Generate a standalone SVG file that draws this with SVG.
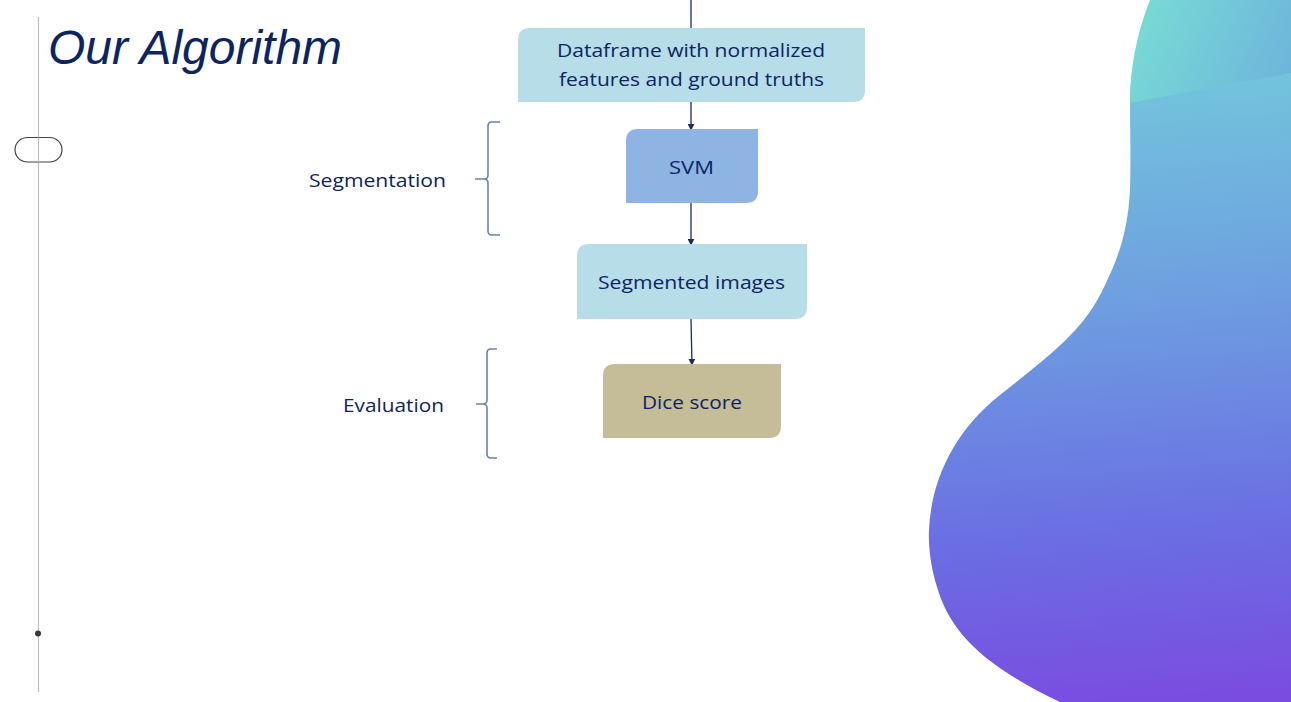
<svg xmlns="http://www.w3.org/2000/svg" width="1291" height="702" viewBox="0 0 1291 702">
<defs>
<style>
.lbl{font-family:"Open Sans","Liberation Sans",Arial,sans-serif;font-size:19px;fill:#0c2461;text-anchor:middle;}
.side{font-family:"Open Sans","Liberation Sans",Arial,sans-serif;font-size:19px;fill:#0c2461;text-anchor:end;}
.conn{stroke:#1a2e66;stroke-width:1.3;fill:none;}
.brace{stroke:#6b82ad;stroke-width:1.6;fill:none;}
</style>
<marker id="ah" viewBox="0 0 10 10" refX="9" refY="5" markerWidth="7" markerHeight="7" markerUnits="userSpaceOnUse" orient="auto">
<path d="M0 0 L10 5 L0 10 Z" fill="#1a2e66"/>
</marker>
<linearGradient id="gTeal" gradientUnits="userSpaceOnUse" x1="1130" y1="20" x2="1291" y2="90">
<stop offset="0" stop-color="#78dcd4"/>
<stop offset="1" stop-color="#6db3dc"/>
</linearGradient>
<linearGradient id="gMain" gradientUnits="userSpaceOnUse" x1="1110" y1="73" x2="1160" y2="702">
<stop offset="0" stop-color="#72c6dc"/>
<stop offset="0.35" stop-color="#6ea0e0"/>
<stop offset="0.72" stop-color="#6a6fe3"/>
<stop offset="1" stop-color="#7a4ce0"/>
</linearGradient>
</defs>
<rect width="1291" height="702" fill="#ffffff"/>

<g id="background">
<path d="M1134 60 L1291 40 L1291 702 L1060 702 C1010 678 965 650 945 608 C932 580 928 550 929 530 C931 480 955 430 1000 395 C1050 355 1085 330 1105 285 C1122 250 1128 225 1130 190 C1131 160 1130 130 1130 103 C1130 90 1131 75 1134 60 Z" fill="url(#gMain)"/>
<path d="M1150 0 L1291 0 L1291 73 L1130 103 C1130 70 1136 35 1150 0 Z" fill="url(#gTeal)"/>
<line x1="38.5" y1="17" x2="38.5" y2="692" stroke="#bdbdbd" stroke-width="1.2"/>
<rect x="15" y="137.5" width="47" height="24.5" rx="12.25" fill="#ffffff" stroke="#444444" stroke-width="1.2"/>
<line x1="38.5" y1="137.5" x2="38.5" y2="162" stroke="#bdbdbd" stroke-width="1.2"/>
<circle cx="38" cy="633.5" r="3" fill="#3a3a3a"/>
<text x="48" y="64" font-family="'Liberation Sans',Arial,sans-serif" font-style="italic" font-size="48" fill="#0c2461" textLength="294" lengthAdjust="spacingAndGlyphs">Our Algorithm</text>
</g>

<g id="connectors">
<line class="conn" x1="691" y1="0" x2="691" y2="28"/>
<line class="conn" x1="691" y1="102" x2="691" y2="130" marker-end="url(#ah)"/>
<line class="conn" x1="691" y1="203" x2="691" y2="245" marker-end="url(#ah)"/>
<line class="conn" x1="691" y1="319" x2="692" y2="365" marker-end="url(#ah)"/>
</g>

<g id="node-dataframe">
<path d="M530 28 L865 28 L865 90 Q865 102 853 102 L518 102 L518 40 Q518 28 530 28 Z" fill="#b7dde8"/>
<text class="lbl" x="691" y="56.5" textLength="268" lengthAdjust="spacingAndGlyphs">Dataframe with normalized</text>
<text class="lbl" x="691.5" y="85.5" textLength="265" lengthAdjust="spacingAndGlyphs">features and ground truths</text>
</g>

<g id="node-svm">
<path d="M638 129 L758 129 L758 191 Q758 203 746 203 L626 203 L626 141 Q626 129 638 129 Z" fill="#8eb4e3"/>
<text class="lbl" x="691.5" y="173.5" textLength="45" lengthAdjust="spacingAndGlyphs">SVM</text>
</g>

<g id="node-segmented">
<path d="M589 244 L807 244 L807 307 Q807 319 795 319 L577 319 L577 256 Q577 244 589 244 Z" fill="#b7dde8"/>
<text class="lbl" x="691.5" y="288.5" textLength="187" lengthAdjust="spacingAndGlyphs">Segmented images</text>
</g>

<g id="node-dice">
<path d="M615 364 L781 364 L781 426 Q781 438 769 438 L603 438 L603 376 Q603 364 615 364 Z" fill="#c4bd97"/>
<text class="lbl" x="692" y="408.5" textLength="100" lengthAdjust="spacingAndGlyphs">Dice score</text>
</g>

<g id="group-segmentation">
<path class="brace" d="M500 122 L492 122 Q488 122 488 126 L488 175 Q488 179 484 179 L475 179 L484 179 Q488 179 488 183 L488 231 Q488 235 492 235 L500 235"/>
<text class="side" x="446" y="186.5" textLength="137" lengthAdjust="spacingAndGlyphs">Segmentation</text>
</g>

<g id="group-evaluation">
<path class="brace" d="M497 349 L491 349 Q487 349 487 353 L487 400 Q487 404 483 404 L476 404 L483 404 Q487 404 487 408 L487 454 Q487 458 491 458 L497 458"/>
<text class="side" x="444" y="411.5" textLength="101" lengthAdjust="spacingAndGlyphs">Evaluation</text>
</g>
</svg>
